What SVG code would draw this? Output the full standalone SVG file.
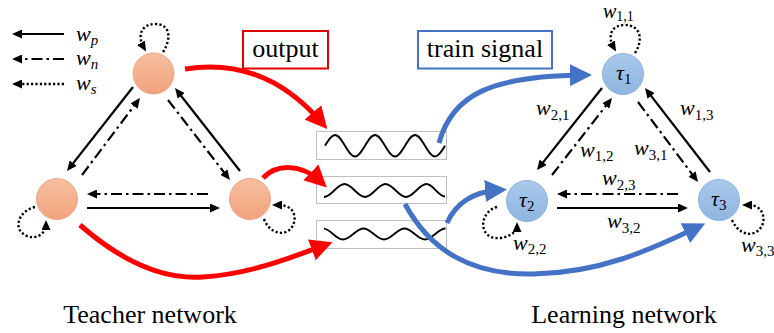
<svg xmlns="http://www.w3.org/2000/svg" width="774" height="333" viewBox="0 0 774 333">
<style>
.ln{fill:none;stroke:#000;stroke-width:2.2}
.dd{stroke-dasharray:11 4 2.5 4}
.dt{stroke-dasharray:2.2 2.2;stroke-width:2.4}
.red{fill:none;stroke:#ff0000;stroke-width:5}
.blue{fill:none;stroke:#4472c4;stroke-width:5}
.wave{fill:none;stroke:#000;stroke-width:1.8}
.wbox{fill:#fff;stroke:#bfbfbf;stroke-width:1}
.tn{fill:url(#gT);stroke:#eaa888;stroke-width:1}
.ln2{fill:url(#gL);stroke:#8db3de;stroke-width:1}
.w{font-family:'Liberation Serif','Times New Roman','DejaVu Serif',serif;font-style:italic;font-size:22px;fill:#000}
.sub{font-style:normal;font-size:15px}
.subi{font-size:15px}
.ttl{font-family:'Liberation Serif','Times New Roman','DejaVu Serif',serif;font-size:26px;fill:#000}
</style>
<defs>
<linearGradient id="gT" x1="0" y1="0" x2="0" y2="1"><stop offset="0" stop-color="#f6bfa0"/><stop offset="1" stop-color="#f2a27c"/></linearGradient>
<linearGradient id="gL" x1="0" y1="0" x2="0" y2="1"><stop offset="0" stop-color="#a9c9ea"/><stop offset="1" stop-color="#8fb5e0"/></linearGradient>
<marker id="ab" markerUnits="userSpaceOnUse" viewBox="0 0 10 9" markerWidth="10" markerHeight="9" refX="6" refY="4.5" orient="auto"><path d="M0,0 L10,4.5 L0,9 z" fill="#000"/></marker>
<marker id="ar" markerUnits="userSpaceOnUse" viewBox="0 0 22 22" markerWidth="22" markerHeight="22" refX="14" refY="11" orient="auto"><path d="M0,0 L22,11 L0,22 z" fill="#ff0000"/></marker>
<marker id="abl" markerUnits="userSpaceOnUse" viewBox="0 0 22 22" markerWidth="22" markerHeight="22" refX="14" refY="11" orient="auto"><path d="M0,0 L22,11 L0,22 z" fill="#4472c4"/></marker>
</defs>
<rect width="774" height="333" fill="#fff"/>

<g id="legend">
<path class="ln" d="M64,34 L16,34" marker-end="url(#ab)"/>
<path class="ln dd" d="M64,59 L16,59" marker-end="url(#ab)"/>
<path class="ln dt" d="M64,84 L16,84" marker-end="url(#ab)"/>
<text class="w" x="76" y="41">w<tspan class="subi" dy="4">p</tspan></text>
<text class="w" x="76" y="65">w<tspan class="subi" dy="4">n</tspan></text>
<text class="w" x="76" y="90">w<tspan class="subi" dy="4">s</tspan></text>
</g>

<g id="output-label">
<rect x="243" y="31" width="85" height="37.5" fill="#fff" stroke="#e00000" stroke-width="2"/>
<text class="ttl" x="285.5" y="57" text-anchor="middle">output</text>
</g>
<g id="train-label">
<rect x="418" y="31" width="134" height="37.5" fill="#fff" stroke="#4472c4" stroke-width="2"/>
<text class="ttl" x="485" y="57" text-anchor="middle">train signal</text>
</g>

<g id="signal1">
<rect class="wbox" x="316.5" y="131.5" width="130" height="28"/>
<path class="wave" d="M325,145.75 C328.26,140.24 331.38,135 335,135 C342.28,135 347.72,156.5 355,156.5 C362.28,156.5 367.72,135 375,135 C382.28,135 387.72,156.5 395,156.5 C402.28,156.5 407.72,135 415,135 C422.28,135 427.72,156.5 435,156.5 C438.62,156.5 441.74,151.26 445,145.75"/>
</g>
<g id="signal2">
<rect class="wbox" x="316.5" y="176.5" width="130" height="27"/>
<path class="wave" d="M324,197 C331.46,197 337.04,184 344.5,184 C351.96,184 357.54,197 365,197 C372.46,197 378.04,184 385.5,184 C392.96,184 398.54,197 406,197 C413.46,197 419.04,184 426.5,184 C433,184 438,196 445,196.5"/>
</g>
<g id="signal3">
<rect class="wbox" x="316.5" y="220.5" width="130" height="28"/>
<path class="wave" d="M324,228.6 C330.5,229 335.5,239.5 343,239.5 C350.46,239.5 356.04,228.5 363.5,228.5 C370.96,228.5 376.54,239.5 384,239.5 C391.46,239.5 397.04,228.5 404.5,228.5 C411.96,228.5 417.54,239.5 425,239.5 C432.46,239.5 438.04,228.5 445.5,228.5"/>
</g>

<g id="teacher-1"><circle class="tn" cx="153.5" cy="73.5" r="20.5"/></g>
<g id="teacher-2"><circle class="tn" cx="57" cy="199" r="20.5"/></g>
<g id="teacher-3"><circle class="tn" cx="250" cy="199" r="20.5"/></g>

<g id="learner-1"><circle class="ln2" cx="623" cy="74" r="20.5"/><text class="w" x="616" y="80">τ<tspan class="sub" dy="4">1</tspan></text></g>
<g id="learner-2"><circle class="ln2" cx="527" cy="201" r="20.5"/><text class="w" x="519" y="207">τ<tspan class="sub" dy="4">2</tspan></text></g>
<g id="learner-3"><circle class="ln2" cx="719" cy="200" r="20.5"/><text class="w" x="711" y="206">τ<tspan class="sub" dy="4">3</tspan></text></g>

<g id="connectors">
<path class="ln" d="M133,87 L69.5,167.9" marker-end="url(#ab)"/>
<path class="ln dd" d="M82,175 L137.6,101.2" marker-end="url(#ab)"/>
<path class="ln" d="M240,171 L177.5,91.2" marker-end="url(#ab)"/>
<path class="ln dd" d="M168,100 L227.5,176.8" marker-end="url(#ab)"/>
<path class="ln dd" d="M208,194 L91,194" marker-end="url(#ab)"/>
<path class="ln" d="M87,208 L216,208" marker-end="url(#ab)"/>
<path class="ln dt" d="M163,52 C172,38 170,24 155,24 C141,24 137,36 144,48" marker-end="url(#ab)"/>
<path class="ln dt" d="M35,207 C18,211 12,230 27,236 C37,240 46,233 46,224" marker-end="url(#ab)"/>
<path class="ln dt" d="M264,219 C268,230 278,235 286,232 C296,228 298,212 288,207 C284,205 280,205 276,205" marker-end="url(#ab)"/>
<path class="ln" d="M602,88 L539.5,166.9" marker-end="url(#ab)"/>
<path class="ln dd" d="M552,175 L609.5,101.2" marker-end="url(#ab)"/>
<path class="ln" d="M710,172 L647.4,91.2" marker-end="url(#ab)"/>
<path class="ln dd" d="M638,102 L695.6,178.8" marker-end="url(#ab)"/>
<path class="ln dd" d="M678,194 L561,194" marker-end="url(#ab)"/>
<path class="ln" d="M557,208 L684,208" marker-end="url(#ab)"/>
<path class="ln dt" d="M635,53 C644,39 640,25 625,25 C611,25 607,36 614,48" marker-end="url(#ab)"/>
<path class="ln dt" d="M497,207 C482,211 478,231 491,237 C502,241 517,234 517,226" marker-end="url(#ab)"/>
<path class="ln dt" d="M732,220 C737,231 746,236 754,233 C765,229 767,213 757,207 C753,205 750,205 746,205" marker-end="url(#ab)"/>
<path class="red" d="M185,69 C240,60 285,80 322,123" marker-end="url(#ar)"/>
<path class="red" d="M263,178 C275,165 300,162 321,182" marker-end="url(#ar)"/>
<path class="red" d="M80,225 C120,260 160,280 203,277 C250,274 290,258 325,245" marker-end="url(#ar)"/>
<path class="blue" d="M439,143 C452,95 490,76 584,75" marker-end="url(#abl)"/>
<path class="blue" d="M447,223 C455,205 470,192 499,190" marker-end="url(#abl)"/>
<path class="blue" d="M405,204 C430,250 470,275 533,274 C600,273 650,250 698,227" marker-end="url(#abl)"/>
</g>

<g id="weight-labels">
<text class="w" x="603" y="18" style="font-size:20px">w<tspan class="sub" dy="3" style="font-size:14px">1,1</tspan></text>
<text class="w" x="536" y="115">w<tspan class="sub" dy="5">2,1</tspan></text>
<text class="w" x="680" y="115">w<tspan class="sub" dy="5">1,3</tspan></text>
<text class="w" x="580" y="157">w<tspan class="sub" dy="4">1,2</tspan></text>
<text class="w" x="634" y="155">w<tspan class="sub" dy="5">3,1</tspan></text>
<text class="w" x="602" y="185">w<tspan class="sub" dy="5">2,3</tspan></text>
<text class="w" x="607" y="228">w<tspan class="sub" dy="5">3,2</tspan></text>
<text class="w" x="513" y="250">w<tspan class="sub" dy="4">2,2</tspan></text>
<text class="w" x="741" y="252">w<tspan class="sub" dy="4">3,3</tspan></text>
</g>

<g id="titles">
<text class="ttl" x="150" y="323" text-anchor="middle">Teacher network</text>
<text class="ttl" x="624" y="323" text-anchor="middle">Learning network</text>
</g>
</svg>
